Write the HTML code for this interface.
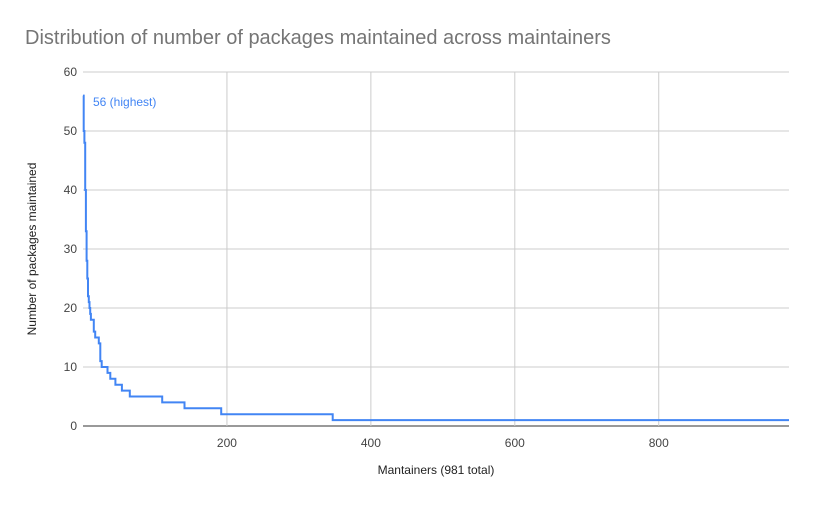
<!DOCTYPE html>
<html><head><meta charset="utf-8"><style>
body{margin:0;background:#fff;font-family:"Liberation Sans",Arial,sans-serif}
svg text{font-family:"Liberation Sans",Arial,sans-serif}
</style></head><body>
<svg id="c" width="813" height="503">
<rect width="813" height="503" fill="#fff"/>
<text x="25" y="44" font-size="20" fill="#757575">Distribution of number of packages maintained across maintainers</text>
<g id="grid"></g>
<g id="labels"></g>
<text x="436" y="474" font-size="12" fill="#222" text-anchor="middle">Mantainers (981 total)</text>
<text transform="translate(36,249) rotate(-90)" font-size="12" fill="#222" text-anchor="middle">Number of packages maintained</text>
<path id="line" fill="none" stroke="#4285f4" stroke-width="2"/>
<text x="93" y="106" font-size="12" fill="#4285f4">56 (highest)</text>
</svg>
<script>
const stepValues=[56,50,48,40,33,28,25,22,21,20,19,18,16,15,14,11,10,9,8,7,6,5,4,3,2,1];
const stepEndRank=[1,2,3,4,5,6,7,8,9,10,11,15,17,22,24,26,34,38,45,54,65,110,141,192,347,981];
const yTicks=[0,10,20,30,40,50,60];
const xTicks=[200,400,600,800];
const X0=83,X1=789,Y0=426,Y1=72,XMAX=981,YMAX=60;
const sx=v=>X0+(v/XMAX)*(X1-X0);
const sy=v=>Y0-(v/YMAX)*(Y0-Y1);
const ns="http://www.w3.org/2000/svg";
const grid=document.getElementById('grid'),labels=document.getElementById('labels');
function mk(tag,attrs,parent){const e=document.createElementNS(ns,tag);for(const k in attrs)e.setAttribute(k,attrs[k]);parent.appendChild(e);return e;}
yTicks.forEach(t=>{
  const l=mk('line',{x1:X0,x2:X1,y1:sy(t),y2:sy(t),stroke:t===0?'#333':'#ccc','stroke-width':1},grid);
  
  
  const tx=mk('text',{x:77,y:sy(t)+4,'font-size':12,fill:'#444','text-anchor':'end'},labels);
  tx.textContent=t;
  
  
});
xTicks.forEach(t=>{
  const l=mk('line',{x1:sx(t),x2:sx(t),y1:Y1,y2:Y0,stroke:'#ccc','stroke-width':1},grid);
  
  
  const tx=mk('text',{x:sx(t),y:447,'font-size':12,fill:'#444','text-anchor':'middle'},labels);
  tx.textContent=t;
  
  
});
let d='',start=0;
stepValues.forEach((v,i)=>{
  const a=sx(start),b=sx(stepEndRank[i]),y=sy(v);
  d+=(i===0?'M':'L')+a.toFixed(1)+','+y.toFixed(1)+'L'+b.toFixed(1)+','+y.toFixed(1);
  start=stepEndRank[i];
});
document.getElementById('line').setAttribute('d',d);
</script>
</body></html>
